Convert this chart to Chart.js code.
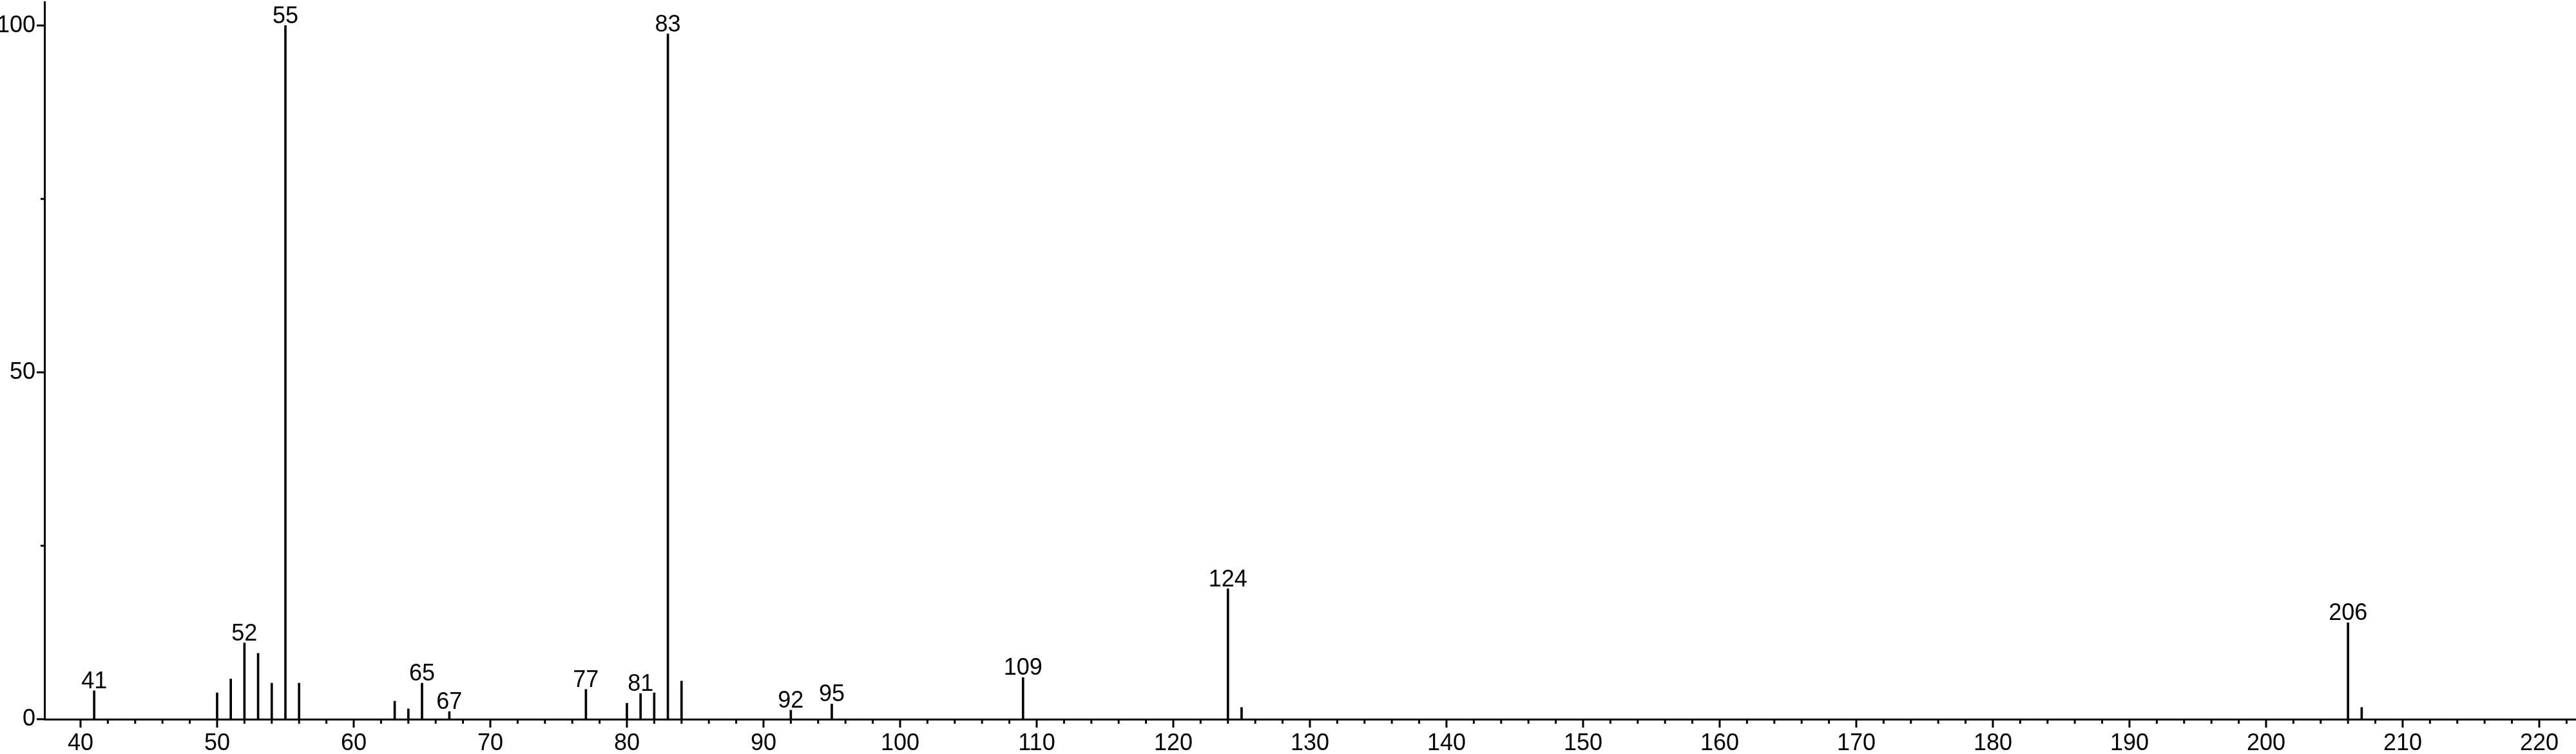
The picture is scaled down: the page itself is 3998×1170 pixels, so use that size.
<!DOCTYPE html>
<html>
<head>
<meta charset="utf-8">
<script src="https://cdn.jsdelivr.net/npm/chart.js@4.4.1/dist/chart.umd.min.js"></script>
<style>
  body { margin: 0; background: #fff; }
  #wrap { width: 3998px; height: 1170px; position: relative; }
</style>
</head>
<body>
<div id="wrap"><canvas id="spectrum"></canvas></div>
<script>
// m/z and relative intensity
const masses = [41, 50, 51, 52, 53, 54, 55, 56, 63, 64, 65, 67, 77, 80, 81, 82, 83, 84, 92, 95, 109, 124, 125, 206, 207];
const intensities = [4.1, 3.8, 5.8, 11.0, 9.5, 5.2, 100, 5.2, 2.6, 1.5, 5.2, 1.1, 4.3, 2.3, 3.7, 3.8, 98.8, 5.5, 1.3, 2.2, 6.0, 18.8, 1.7, 13.9, 1.7];
const labelledPeaks = [41, 52, 55, 65, 67, 77, 81, 83, 92, 95, 109, 124, 206];
const xTickLabels = [40, 50, 60, 70, 80, 90, 100, 110, 120, 130, 140, 150, 160, 170, 180, 190, 200, 210, 220];
const yTickLabels = [0, 50, 100];

const FONT = "'Liberation Sans Narrow', 'Arial Narrow', 'Liberation Sans', Arial, sans-serif";
const FONT_SIZE = 36;

const peakLabels = {
    id: 'peakLabels',
    afterDatasetsDraw(chart) {
        const ctx = chart.ctx;
        const meta = chart.getDatasetMeta(0);
        ctx.save();
        ctx.fillStyle = '#000';
        ctx.font = FONT_SIZE + 'px ' + FONT;
        ctx.textAlign = 'center';
        ctx.textBaseline = 'alphabetic';
        meta.data.forEach((bar, i) => {
            if (labelledPeaks.includes(masses[i])) {
                ctx.fillText(String(masses[i]), bar.x, bar.y - 4);
            }
        });
        ctx.restore();
    }
};

// major + minor tick marks on both axes
const tickMarks = {
    id: 'tickMarks',
    afterDraw(chart) {
        const ctx = chart.ctx;
        const xs = chart.scales.x, ys = chart.scales.y;
        ctx.save();
        ctx.strokeStyle = '#000';
        ctx.lineWidth = 3;
        for (let v = 40; v <= 222; v += 2) {
            const px = xs.getPixelForValue(v);
            const len = v % 10 === 0 ? 13 : 7;
            ctx.beginPath();
            ctx.moveTo(px, ys.bottom);
            ctx.lineTo(px, ys.bottom + len);
            ctx.stroke();
        }
        for (let v = 0; v <= 100; v += 25) {
            const py = ys.getPixelForValue(v);
            const len = v % 50 === 0 ? 12 : 6;
            ctx.beginPath();
            ctx.moveTo(xs.left, py);
            ctx.lineTo(xs.left - len, py);
            ctx.stroke();
        }
        ctx.restore();
    }
};

new Chart(document.getElementById('spectrum'), {
    type: 'bar',
    data: {
        datasets: [{
            data: masses.map((m, i) => ({ x: m, y: intensities[i] })),
            backgroundColor: '#000',
            borderWidth: 0,
            barThickness: 3
        }]
    },
    options: {
        responsive: true,
        maintainAspectRatio: false,
        animation: false,
        layout: { padding: { top: 3, right: 0, left: 0, bottom: 0 } },
        plugins: {
            legend: { display: false },
            tooltip: { enabled: false }
        },
        scales: {
            x: {
                type: 'linear',
                min: 37.36,
                max: 222.69,
                offset: false,
                grid: { display: false, drawTicks: false },
                border: { display: true, color: '#000', width: 3 },
                afterBuildTicks: scale => { scale.ticks = xTickLabels.map(v => ({ value: v })); },
                afterFit: scale => {
                    scale.height = 54;
                    scale.paddingLeft = 0;
                    scale.paddingRight = 0;
                },
                ticks: {
                    color: '#000',
                    padding: 16,
                    maxRotation: 0,
                    autoSkip: false,
                    font: { family: FONT, size: FONT_SIZE }
                }
            },
            y: {
                min: 0,
                max: 103.4,
                grid: { display: false, drawTicks: false },
                border: { display: true, color: '#000', width: 3 },
                afterBuildTicks: scale => { scale.ticks = yTickLabels.map(v => ({ value: v })); },
                afterFit: scale => {
                    scale.width = 69;
                    scale.paddingTop = 0;
                    scale.paddingBottom = 0;
                },
                ticks: {
                    color: '#000',
                    padding: 14,
                    font: { family: FONT, size: FONT_SIZE }
                }
            }
        }
    },
    plugins: [peakLabels, tickMarks]
});
</script>
</body>
</html>
